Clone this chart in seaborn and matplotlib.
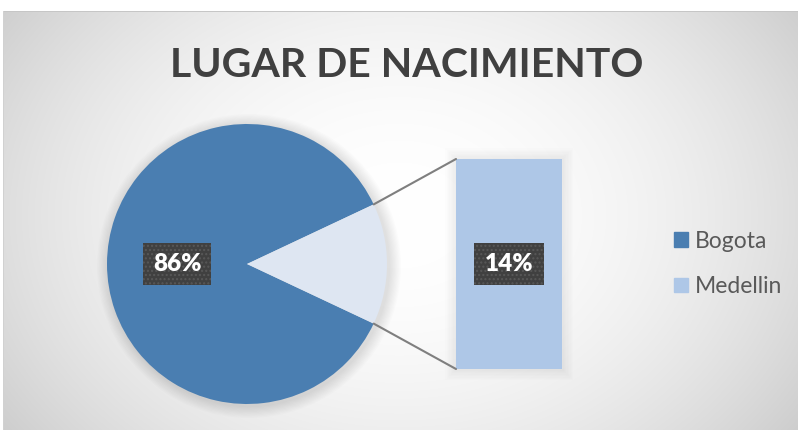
import numpy as np
import matplotlib
matplotlib.use('Agg')
import matplotlib.pyplot as plt
from matplotlib.patches import ConnectionPatch, Patch, Circle, FancyBboxPatch
import seaborn as sns

# datos del grafico
titulo = 'LUGAR DE NACIMIENTO'
ciudades = ['Bogota', 'Medellin']
porcentajes = [86, 14]
colores = ['#4A7EB1', '#AEC7E7']
color_porcion = '#DEE6F2'

sns.set_theme(style='white')
plt.rcParams['font.family'] = ['Lato', 'DejaVu Sans']

W, H = 798, 430
fig = plt.figure(figsize=(W / 100, H / 100), dpi=100)

# fondo con degradado radial
bg = fig.add_axes([0, 0, 1, 1])
yy, xx = np.mgrid[0:H, 0:W]
d = np.sqrt(((xx - 399) / 560) ** 2 + ((yy - 215) / 430) ** 2)
gris = 255 - 66 * np.clip(d, 0, 1.2) ** 2
img = np.dstack([gris, gris, gris]) / 255
img[:11, :, :] = 1
img[:, :3, :] = 1
img[11, 3:, :] = 0.78
img[11:, 3, :] = 0.82
bg.imshow(img, extent=(0, W, H, 0), aspect='auto', interpolation='bilinear')
bg.set_axis_off()

# pastel
ax = fig.add_axes([0, 0, 1, 1])
ax.patch.set_alpha(0)
cx, cy, r = 247, H - 264, 140
for k in range(10):
    ax.add_patch(Circle((cx + 2, cy - 2), r + 12 - k * 1.2, color='black', alpha=0.01, lw=0))

inicio = 180 * porcentajes[1] / 100
wedges, textos, autotextos = ax.pie(
    porcentajes, colors=[colores[0], color_porcion], startangle=inicio,
    center=(cx, cy), radius=r, frame=True,
    autopct=lambda p: f'{p:.0f}%' if p > 50 else '', pctdistance=0.5,
    wedgeprops=dict(linewidth=0))
caja = dict(boxstyle='square,pad=0.42', fc='#404040', ec='#585858', lw=0, hatch='....')
for t in autotextos:
    t.set_color('white')
    t.set_fontsize(17.5)
    t.set_fontweight('heavy')
    t.set_bbox(caja)
ax.set_xlim(0, W)
ax.set_ylim(0, H)
ax.set_axis_off()

# barra de la porcion
bx0, bx1, by0, by1 = 456, 562, 159, 369
axb = fig.add_axes([bx0 / W, (H - by1) / H, (bx1 - bx0) / W, (by1 - by0) / H])
for k in range(8):
    axb.add_patch(FancyBboxPatch((-0.5, 0), 1, porcentajes[1], boxstyle='square,pad=0',
                                 transform=axb.transData, clip_on=False, lw=16 - k * 2,
                                 ec='black', fc='none', alpha=0.008))
sns.barplot(x=[ciudades[1]], y=[porcentajes[1]], color=colores[1], saturation=1,
            width=1, linewidth=0, ax=axb)
axb.set_xlim(-0.5, 0.5)
axb.set_ylim(0, porcentajes[1])
axb.set_axis_off()
etq = axb.bar_label(axb.containers[0], labels=[f'{porcentajes[1]}%'], label_type='center',
                    color='white', fontsize=17.5, fontweight='heavy')
for t in etq:
    t.set_bbox(caja)

# lineas de conexion
w = wedges[1]
for ang, yb in [(w.theta2, porcentajes[1]), (w.theta1, 0)]:
    px = cx + r * np.cos(np.radians(ang))
    py = cy + r * np.sin(np.radians(ang))
    con = ConnectionPatch(xyA=(px, py), coordsA=ax.transData, xyB=(-0.5, yb),
                          coordsB=axb.transData, color='#7F7F7F', lw=1.5)
    fig.add_artist(con)

# titulo
fig.text(407 / W, 1 - 77 / H, titulo, ha='center', va='baseline', fontsize=29.5,
         fontweight='bold', color='#404040')

# leyenda
handles = [Patch(color=colores[0]), Patch(color=colores[1])]
fig.legend(handles, ciudades, loc='center left', bbox_to_anchor=(653 / W, 1 - 264 / H),
           frameon=False, fontsize=16.5, labelcolor='#595959', handlelength=0.62,
           handleheight=0.62, handletextpad=0.3, labelspacing=1.05)

fig.savefig('out.png', dpi=100)
